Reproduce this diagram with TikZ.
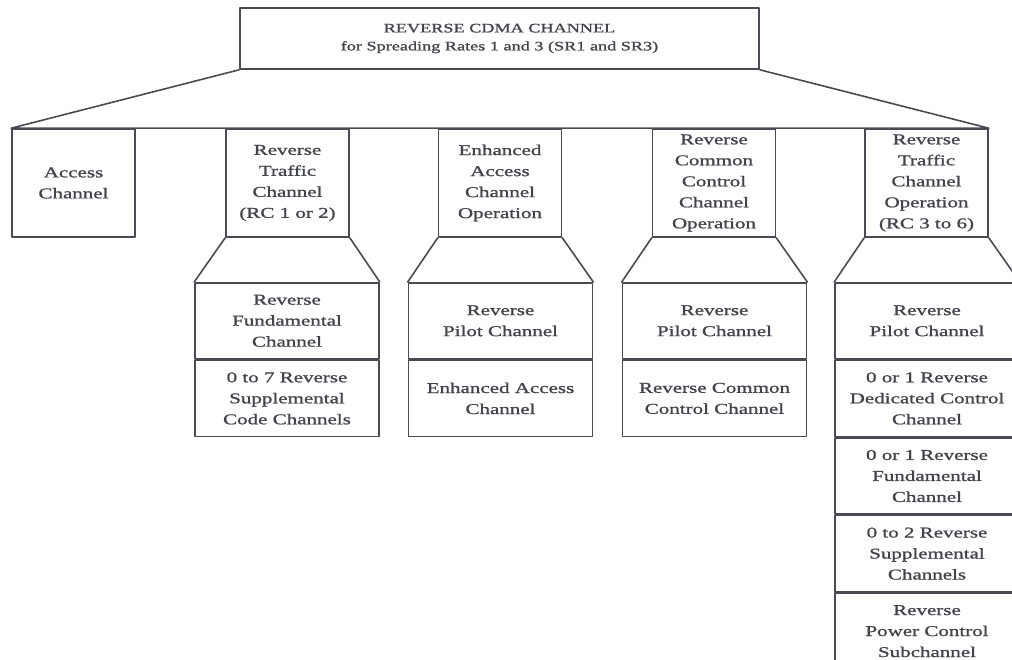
\documentclass[tikz,border=0pt]{standalone}
\usepackage{fontspec}
\setmainfont{Liberation Serif}[FakeStretch=1.4,FakeBold=1.2]
\usetikzlibrary{positioning}
\definecolor{ink}{RGB}{72,76,82}
\tikzset{
  chan/.style={draw=ink, line width=1.6pt, align=center, inner sep=0pt, text=ink!90!black,
    font=\fontsize{15}{21}\selectfont},
  head/.style={chan, minimum width=123pt, minimum height=108pt},
  cell/.style={chan, minimum width=184pt, minimum height=76pt},
}
\begin{document}
\begin{tikzpicture}[x=1pt,y=-1pt,line join=round,line cap=round]
\useasboundingbox (0,0) rectangle (1012,660);
\clip (0,0) rectangle (1012,660);
% top box
\node[chan, minimum width=519pt, minimum height=61pt, font=\fontsize{13}{18}\selectfont] (top) at (499.5,38.5)
  {REVERSE CDMA CHANNEL\\for Spreading Rates 1 and 3 (SR1 and SR3)};
% first level
\node[head] (acc) at (73.5,183) {Access\\Channel};
\node[head] (rtc) at (287.5,183) {Reverse\\Traffic\\Channel\\(RC 1 or 2)};
\node[head] (eac) at (500,183) {Enhanced\\Access\\Channel\\Operation};
\node[head] (rccc) at (714,183) {Reverse\\Common\\Control\\Channel\\Operation};
\node[head] (rtco) at (926.5,183) {Reverse\\Traffic\\Channel\\Operation\\(RC 3 to 6)};
% stacks
\node[cell, anchor=north] (rtc1) at (287,282) {Reverse\\Fundamental\\Channel};
\node[cell, below=0pt of rtc1] (rtc2) {0 to 7 Reverse\\Supplemental\\Code Channels};
\node[cell, anchor=north] (eac1) at (500.5,282) {Reverse\\Pilot Channel};
\node[cell, below=0pt of eac1] (eac2) {Enhanced Access\\Channel};
\node[cell, anchor=north] (rccc1) at (714.5,282) {Reverse\\Pilot Channel};
\node[cell, below=0pt of rccc1] (rccc2) {Reverse Common\\Control Channel};
\node[cell, anchor=north] (rtco1) at (927,282) {Reverse\\Pilot Channel};
\node[cell, below=0pt of rtco1] (rtco2) {0 or 1 Reverse\\Dedicated Control\\Channel};
\node[cell, below=0pt of rtco2] (rtco3) {0 or 1 Reverse\\Fundamental\\Channel};
\node[cell, below=0pt of rtco3] (rtco4) {0 to 2 Reverse\\Supplemental\\Channels};
\node[cell, below=0pt of rtco4] (rtco5) {Reverse\\Power Control\\Subchannel};
% connectors
\begin{scope}[draw=ink, line width=1.6pt]
\draw (top.south west) -- (acc.north west) -- (rtco.north east) -- (top.south east);
\foreach \b in {rtc,eac,rccc,rtco}{
  \draw (\b.south west) -- (\b1.north west) (\b.south east) -- (\b1.north east);}
\end{scope}
\end{tikzpicture}
\end{document}
